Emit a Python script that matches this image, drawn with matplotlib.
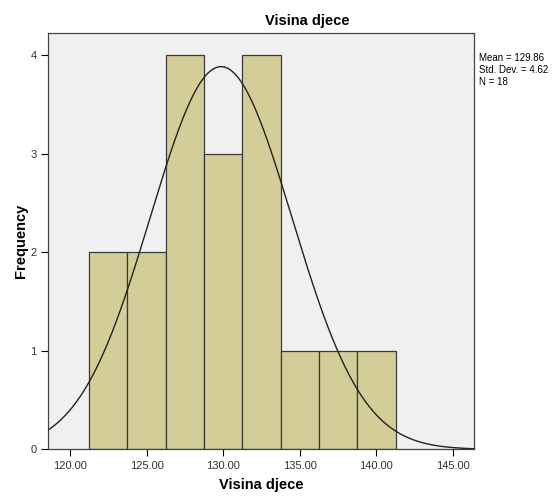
import numpy as np
import matplotlib
matplotlib.use("Agg")
import matplotlib.pyplot as plt

plt.rcParams["font.family"] = ["Liberation Sans", "DejaVu Sans"]

# histogram bins (Visina djece) and counts
bin_edges = [121.25, 123.75, 126.25, 128.75, 131.25, 133.75, 136.25, 138.75, 141.25]
counts = [2, 2, 4, 3, 4, 1, 1, 1]
mean = 129.86
std = 4.62
n = 18
x_ticks = [120, 125, 130, 135, 140, 145]
y_ticks = [0, 1, 2, 3, 4]

fig = plt.figure(figsize=(5.6, 4.96), dpi=100)
ax = fig.add_axes([0.0866, 0.094, 0.7607, 0.84])
ax.set_facecolor("#f0f0f0")

widths = np.diff(bin_edges)
ax.bar(bin_edges[:-1], counts, width=widths, align="edge",
       color="#d3ce98", edgecolor="#3a3a3a", linewidth=0.9, zorder=2)

# normal curve scaled to counts
xs = np.linspace(118.6, 146.4, 400)
bw = widths[0]
ys = n * bw * np.exp(-0.5 * ((xs - mean) / std) ** 2) / (std * np.sqrt(2 * np.pi))
ax.plot(xs, ys, color="#222222", linewidth=1.0, zorder=3)

ax.set_xlim(118.6, 146.4)
ax.set_ylim(0, 4.23)
ax.set_xticks(x_ticks, [f"{t:.2f}" for t in x_ticks])
ax.set_yticks(y_ticks)
ax.tick_params(labelsize=8, labelcolor="#333333", length=5, width=0.8,
               direction="out")
for s in ax.spines.values():
    s.set_color("#444444")
    s.set_linewidth(0.9)

ax.set_xlabel("Visina djece", fontsize=10.5, fontweight="bold", labelpad=5)
ax.set_ylabel("Frequency", fontsize=10.5, fontweight="bold", labelpad=2)
fig.text(0.548, 0.958, "Visina djece", fontsize=10.5, fontweight="bold",
         ha="center", va="center")
fig.text(0.855, 0.893, f"Mean = {mean:.2f}\nStd. Dev. = {std:.2f}\nN = {n}",
         fontsize=7, ha="left", va="top", linespacing=1.25)

plt.savefig("out.png", dpi=100)
